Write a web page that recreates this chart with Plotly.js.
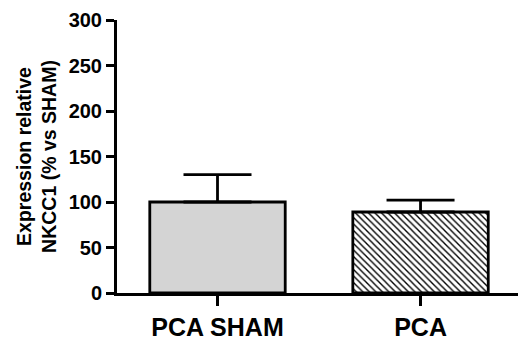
<!DOCTYPE html>
<html><head><meta charset="utf-8">
<script src="https://cdn.plot.ly/plotly-3.0.1.min.js"></script>
<style>html,body{margin:0;padding:0;background:#fff}#c{width:519px;height:341px}</style>
</head><body><div id="c"></div>
<script>
const categories = ["PCA SHAM", "PCA"];
const means = [100, 89];
const semUp = [30, 13];
const yTicks = [0, 50, 100, 150, 200, 250, 300];

const F = '"Liberation Sans", Arial, sans-serif';
const traces = [
  {
    type: 'bar', x: [categories[0]], y: [means[0]], width: 0.667,
    marker: {color: '#d4d4d4', line: {color: '#000', width: 2.8}},
    error_y: {type: 'data', array: [semUp[0]], arrayminus: [0], symmetric: false, color: '#000', thickness: 2.8, width: 34}
  },
  {
    type: 'bar', x: [categories[1]], y: [means[1]], width: 0.667,
    marker: {color: '#fff', line: {color: '#000', width: 2.8},
      pattern: {shape: '\\', fgcolor: '#000', bgcolor: '#fff', size: 4.6, solidity: 0.3}},
    error_y: {type: 'data', array: [semUp[1]], arrayminus: [0], symmetric: false, color: '#000', thickness: 2.8, width: 34}
  }
];
const layout = {
  width: 519, height: 341,
  margin: {l: 117, r: 1, t: 20, b: 48},
  showlegend: false,
  paper_bgcolor: '#fff', plot_bgcolor: '#fff',
  barmode: 'overlay',
  xaxis: {
    type: 'category', range: [-0.495, 1.48],
    showline: true, linecolor: '#000', linewidth: 3,
    ticks: 'outside', ticklen: 10, tickwidth: 3, tickcolor: '#000',
    showgrid: false, zeroline: false,
    tickfont: {family: F, size: 25, color: '#000', weight: 'bold'}
  },
  yaxis: {
    range: [0, 300], tickvals: yTicks,
    showline: true, linecolor: '#000', linewidth: 3,
    ticks: 'outside', ticklen: 8, tickwidth: 3, tickcolor: '#000',
    showgrid: false, zeroline: false,
    tickfont: {family: F, size: 20, color: '#000', weight: 'bold'},
    title: {text: 'Expression relative<br>NKCC1 (% vs SHAM)', standoff: 7,
      font: {family: F, size: 19.5, color: '#000', weight: 'bold'}}
  }
};
Plotly.newPlot('c', traces, layout, {displayModeBar: false, staticPlot: true});
</script></body></html>
